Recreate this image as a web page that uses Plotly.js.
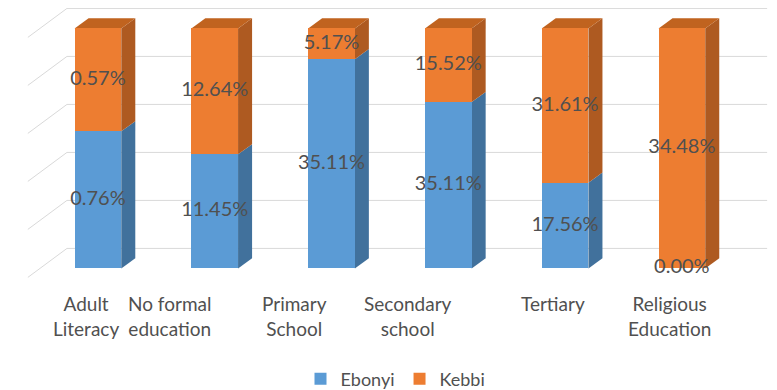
<!DOCTYPE html>
<html>
<head>
<meta charset="utf-8">
<script src="https://cdn.plot.ly/plotly-3.0.1.min.js"></script>
<style>html,body{margin:0;padding:0;background:#fff;}#chart{width:777px;height:390px;}</style>
</head>
<body>
<div id="chart"></div>
<script>
// ---- data ----
const categories = ["Adult Literacy", "No formal education", "Primary School", "Secondary school", "Tertiary", "Religious Education"];
const tickLabels = ["Adult<br>Literacy", "No formal<br>education", "Primary<br>School", "Secondary<br>school", "Tertiary", "Religious<br>Education"];
const ebonyi = [0.76, 11.45, 35.11, 35.11, 17.56, 0.00];
const kebbi  = [0.57, 12.64, 5.17, 15.52, 31.61, 34.48];
const seriesNames = ["Ebonyi", "Kebbi"];
const yTicks = [0, 20, 40, 60, 80, 100];

// ---- style ----
const FONT = "Lato, 'Open Sans', sans-serif";
const TXT = "#505050";
const blue = "#5B9BD5", blueSide = "#41719C";
const orange = "#ED7D31", orangeSide = "#AE5A21", orangeTop = "#C0631F";
const W = 0.4, DX = 0.12, DY = 4.2;           // bar width & pseudo-3D depth (axis units)
const labelShift = [-12, -45, -37, -40, -12, -12]; // category label offsets (px)

const idx = categories.map((_, i) => i);
const share = ebonyi.map((e, i) => e / (e + kebbi[i]) * 100);
const fmt = v => v.toFixed(2) + "%";

const traces = [
  {type: "bar", name: seriesNames[0], x: idx, y: ebonyi, width: W,
   marker: {color: blue}, hoverinfo: "skip"},
  {type: "bar", name: seriesNames[1], x: idx, y: kebbi, width: W,
   marker: {color: orange}, hoverinfo: "skip"},
  {type: "scatter", mode: "text", x: idx, y: share.map(s => s / 2),
   text: ebonyi.map(fmt), showlegend: false, hoverinfo: "skip",
   textfont: {family: FONT, size: 20, color: TXT}},
  {type: "scatter", mode: "text", x: idx, y: share.map(s => (s + 100) / 2),
   text: kebbi.map(fmt), showlegend: false, hoverinfo: "skip",
   textfont: {family: FONT, size: 20, color: TXT}}
];

const shapes = [];
// back wall gridlines + floor diagonals
yTicks.forEach(v => {
  shapes.push({type: "line", layer: "below", xref: "x", yref: "y",
    x0: -0.265, x1: 5.73, y0: v + 8.33, y1: v + 8.33, line: {color: "#D9D9D9", width: 1}});
  shapes.push({type: "line", layer: "below", xref: "x", yref: "y",
    x0: -0.6, x1: -0.265, y0: v - 3.75, y1: v + 8.33, line: {color: "#D9D9D9", width: 1}});
});
// side & top faces
idx.forEach(i => {
  const xl = i - W / 2, xr = i + W / 2, s = share[i];
  if (s > 0) {
    shapes.push({type: "path", layer: "below", xref: "x", yref: "y", fillcolor: blueSide, line: {width: 0},
      path: `M${xr},0 L${xr + DX},${DY} L${xr + DX},${s + DY} L${xr},${s} Z`});
  }
  if (s < 100) {
    shapes.push({type: "path", layer: "below", xref: "x", yref: "y", fillcolor: orangeSide, line: {width: 0},
      path: `M${xr},${s} L${xr + DX},${s + DY} L${xr + DX},${100 + DY} L${xr},100 Z`});
  }
  shapes.push({type: "path", layer: "below", xref: "x", yref: "y", fillcolor: s < 100 ? orangeTop : blueSide, line: {width: 0},
    path: `M${xl},100 L${xl + DX},${100 + DY} L${xr + DX},${100 + DY} L${xr},100 Z`});
});

const annotations = tickLabels.map((t, i) => ({
  x: i, xref: "x", y: 0, yref: "paper", yanchor: "top", xanchor: "center",
  yshift: -12, xshift: labelShift[i], text: t, showarrow: false, align: "center",
  font: {family: FONT, size: 19, color: TXT}
}));

const layout = {
  width: 777, height: 390,
  margin: {l: 22, r: 8, t: 8, b: 112, autoexpand: false},
  paper_bgcolor: "#ffffff", plot_bgcolor: "#ffffff",
  barmode: "stack", barnorm: "percent",
  xaxis: {range: [-0.65, 5.746], showgrid: false, zeroline: false, showticklabels: false, showline: false, fixedrange: true},
  yaxis: {range: [-4, 108.5], showgrid: false, zeroline: false, showticklabels: false, showline: false, fixedrange: true},
  showlegend: true,
  legend: {orientation: "h", x: 0.5, xanchor: "center", y: -0.374, yanchor: "middle",
    font: {family: FONT, size: 18, color: TXT}, itemwidth: 30, traceorder: "normal"},
  shapes: shapes,
  annotations: annotations,
  font: {family: FONT, color: TXT}
};

Plotly.newPlot("chart", traces, layout, {displayModeBar: false, staticPlot: true});
</script>
</body>
</html>
